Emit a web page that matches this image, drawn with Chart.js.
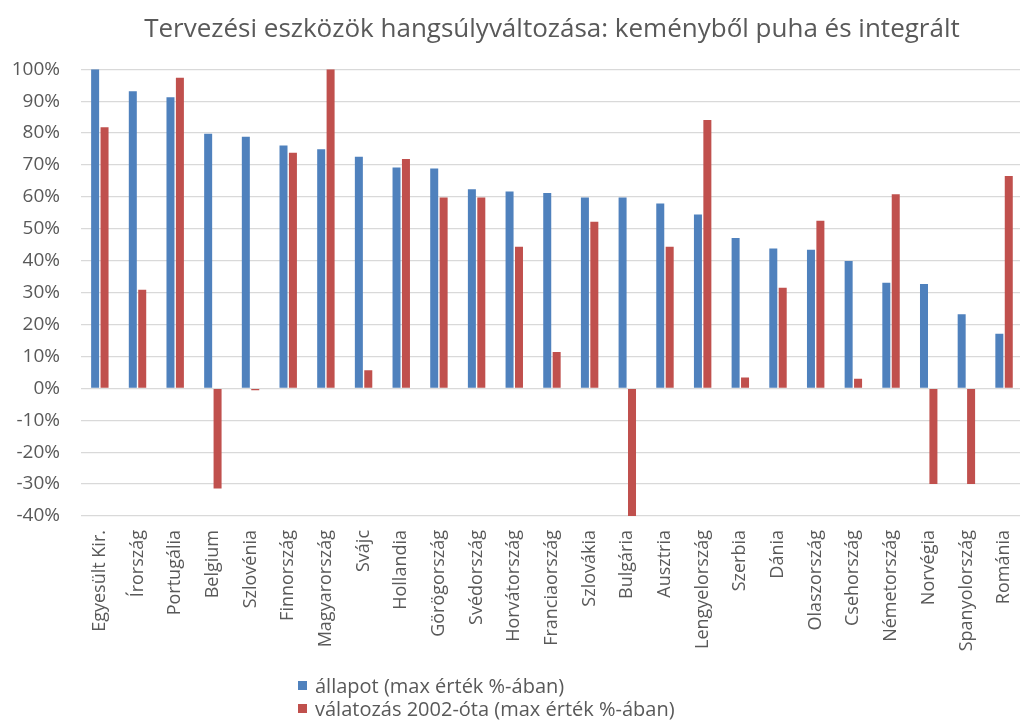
<!DOCTYPE html>
<html>
<head>
<meta charset="utf-8">
<title>Tervezési eszközök hangsúlyváltozása</title>
<script src="https://cdn.jsdelivr.net/npm/chart.js@4.4.1/dist/chart.umd.min.js"></script>
<style>
  html, body { margin: 0; padding: 0; background: #ffffff; overflow: hidden; }
  #wrap { position: relative; width: 1020px; height: 722px; overflow: hidden; }
  #chart { position: absolute; left: 0; top: 0; }
  #legend {
    position: absolute; left: 298px; top: 674px;
    font-family: "Open Sans", sans-serif; font-size: 20px; color: #595959;
    line-height: 23px;
  }
  #legend .item { display: flex; align-items: center; white-space: nowrap; }
  #legend .swatch { width: 9px; height: 9px; margin-right: 8px; flex: none; }
</style>
</head>
<body>
<div id="wrap">
  <canvas id="chart" width="1040" height="722"></canvas>
  <div id="legend"></div>
</div>
<script>
// Countries, ordered by current state score
const countries = [
  'Egyesült Kir.', 'Írország', 'Portugália', 'Belgium', 'Szlovénia',
  'Finnország', 'Magyarország', 'Svájc', 'Hollandia', 'Görögország',
  'Svédország', 'Horvátország', 'Franciaország', 'Szlovákia', 'Bulgária',
  'Ausztria', 'Lengyelország', 'Szerbia', 'Dánia', 'Olaszország',
  'Csehország', 'Németország', 'Norvégia', 'Spanyolország', 'Románia'
];

// State (percent of the maximum score)
const allapot = [
  100, 93.1, 91.2, 79.8, 78.8,
  76.1, 74.9, 72.6, 69.2, 68.9,
  62.4, 61.7, 61.2, 59.8, 59.8,
  57.9, 54.5, 47.1, 43.8, 43.4,
  39.9, 33.1, 32.7, 23.2, 17.1
];

// Change since 2002 (percent of the maximum score)
const valtozas = [
  81.8, 30.9, 97.3, -31.4, -0.6,
  73.8, 100, 5.7, 71.9, 59.8,
  59.8, 44.4, 11.4, 52.2, -40,
  44.4, 84.1, 3.4, 31.5, 52.5,
  3.0, 60.8, -30.0, -30.0, 66.5
];

const seriesLabels = ['állapot (max érték %-ában)', 'válatozás 2002-óta (max érték %-ában)'];
const titleText = 'Tervezési eszközök hangsúlyváltozása: keményből puha és integrált';

// Value axis range and step
const yMin = -40;
const yMax = 100;
const yStep = 10;

const BLUE = '#4F81BD';
const RED = '#C0504D';
const TEXT = '#595959';
const FONT = '"Open Sans", sans-serif';

const chart = new Chart(document.getElementById('chart'), {
  type: 'bar',
  data: {
    labels: countries,
    datasets: [
      { label: seriesLabels[0], data: allapot, backgroundColor: BLUE,
        categoryPercentage: 0.5, barPercentage: 0.85 },
      { label: seriesLabels[1], data: valtozas, backgroundColor: RED,
        categoryPercentage: 0.5, barPercentage: 0.85 }
    ]
  },
  options: {
    responsive: false,
    animation: false,
    layout: { padding: { left: 10, right: 12, top: 0, bottom: 0 } },
    plugins: {
      legend: { display: false },
      tooltip: { enabled: false },
      title: {
        display: true,
        text: titleText,
        fullSize: false,
        color: TEXT,
        font: { family: FONT, size: 26, weight: 'normal', lineHeight: 1.2 },
        padding: { top: 14, bottom: 24 }
      }
    },
    scales: {
      x: {
        grid: { display: false, drawTicks: false },
        border: { display: false },
        ticks: {
          color: TEXT,
          font: { family: FONT, size: 18 },
          maxRotation: 90, minRotation: 90,
          autoSkip: false,
          padding: 14
        },
        afterFit(scale) { scale.height = 722 - 516; }
      },
      y: {
        min: yMin,
        max: yMax,
        grid: { color: '#d9d9d9', lineWidth: 1.2, drawTicks: false },
        border: { display: false },
        ticks: {
          stepSize: yStep,
          color: TEXT,
          font: { family: FONT, size: 19 },
          padding: 21,
          callback: (v) => v + '%'
        },
        afterFit(scale) { scale.width = 71; }
      }
    }
  }
});

// Legend stacked in two rows below the axis labels
const legendEl = document.getElementById('legend');
chart.data.datasets.forEach((ds) => {
  const item = document.createElement('div');
  item.className = 'item';
  const sw = document.createElement('span');
  sw.className = 'swatch';
  sw.style.background = ds.backgroundColor;
  const txt = document.createElement('span');
  txt.textContent = ds.label;
  item.appendChild(sw);
  item.appendChild(txt);
  legendEl.appendChild(item);
});
</script>
</body>
</html>
